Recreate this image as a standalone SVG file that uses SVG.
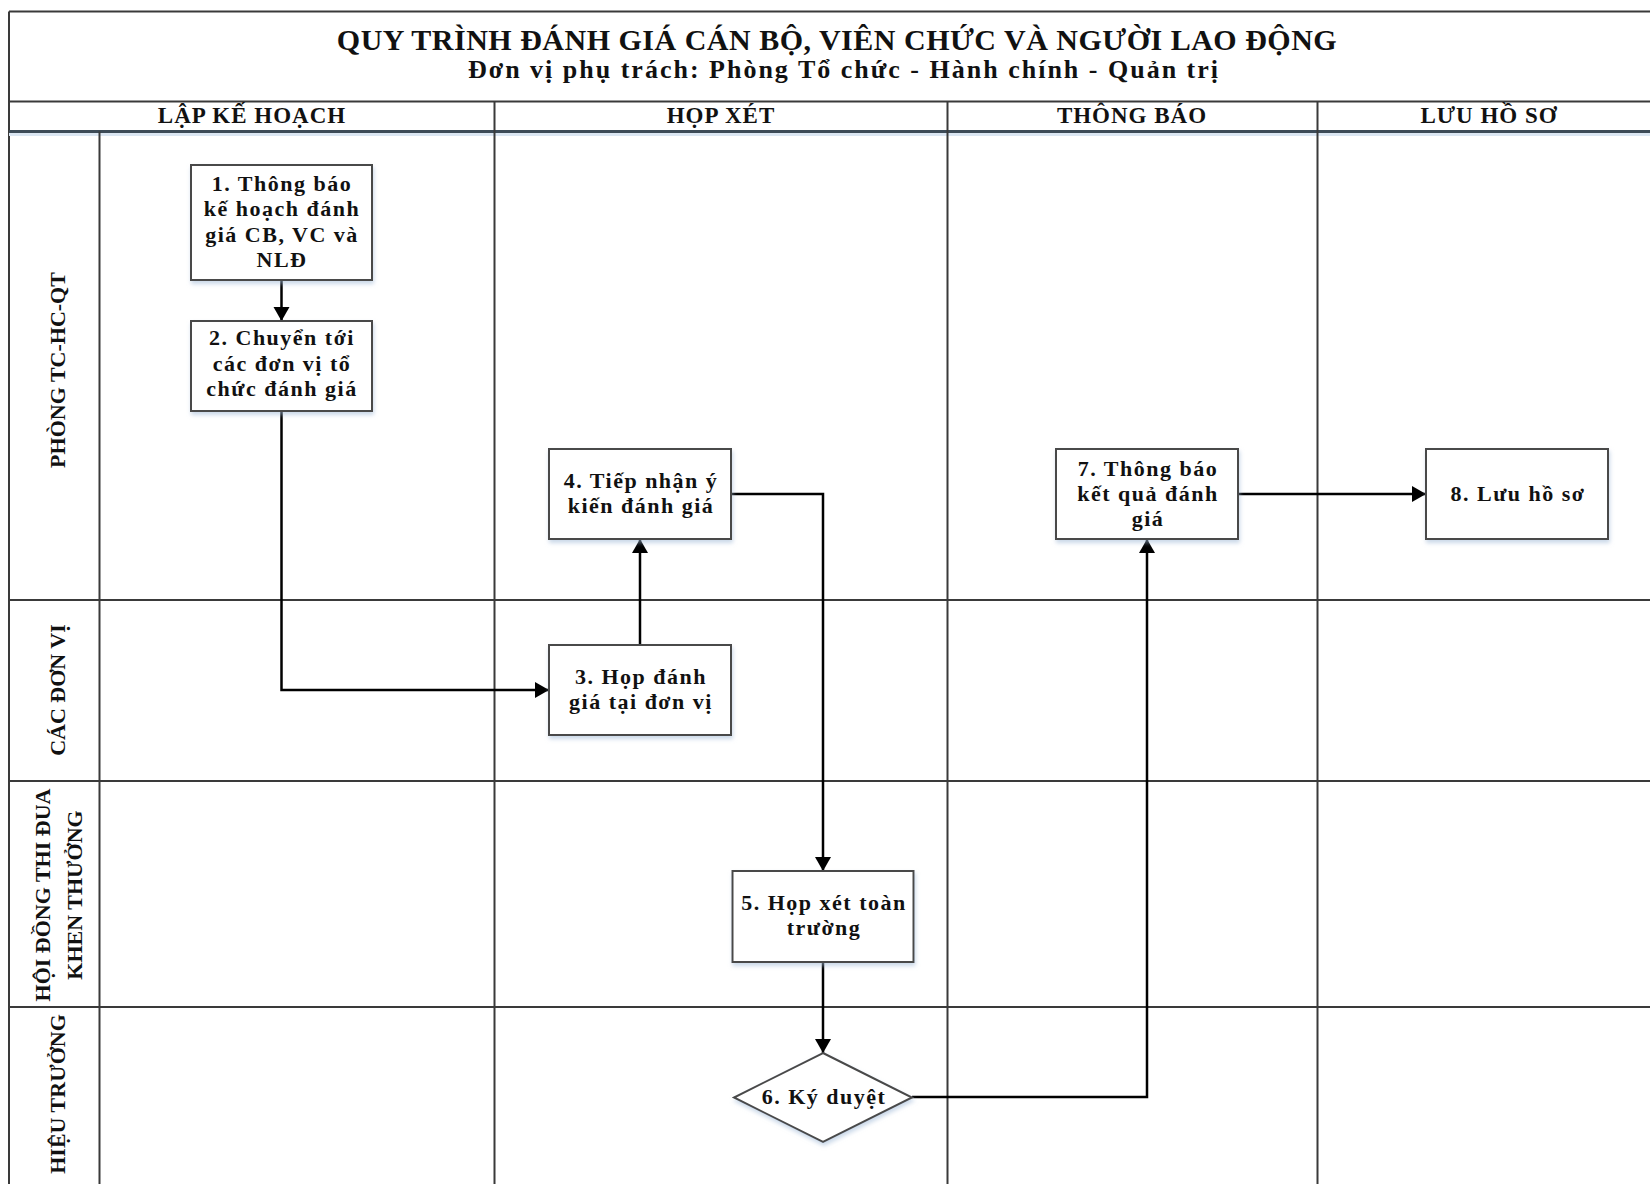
<svg xmlns="http://www.w3.org/2000/svg" width="1650" height="1184" viewBox="0 0 1650 1184">
  <defs>
    <marker id="arrow" markerUnits="userSpaceOnUse" markerWidth="15" markerHeight="17" refX="14" refY="8" orient="auto">
      <path d="M0,0 L14,8 L0,16 z" fill="#000"/>
    </marker>
    <filter id="shadow" x="-10%" y="-10%" width="125%" height="130%">
      <feDropShadow dx="1" dy="3" stdDeviation="2" flood-color="#9fb8d6" flood-opacity="0.55"/>
    </filter>
    <style>
      text { font-family: "Liberation Serif", "Times New Roman", serif; font-weight: bold; fill: #111; }
      .title { font-size: 30px; letter-spacing: 0.5px; text-anchor: middle; }
      .subtitle { font-size: 26px; letter-spacing: 2px; text-anchor: middle; }
      .hdr { font-size: 23px; letter-spacing: 1px; text-anchor: middle; }
      .lane { font-size: 22px; text-anchor: middle; }
      .node { font-size: 22px; letter-spacing: 1.5px; text-anchor: middle; }
      .grid { stroke: #3a3a3a; stroke-width: 2; fill: none; }
      .hdrline { stroke: #3d4b57; stroke-width: 3; fill: none; }
      .box { fill: #fff; stroke: #4a4a4a; stroke-width: 2; filter: url(#shadow); }
      .conn { stroke: #000; stroke-width: 2.5; fill: none; marker-end: url(#arrow); }
    </style>
  </defs>

  <rect width="1650" height="1184" fill="#fff"/>

  <g id="frame">
    <line class="grid" x1="9" y1="11.5" x2="1650" y2="11.5"/>
    <line class="grid" x1="9" y1="11.5" x2="9" y2="1184"/>
    <line class="grid" x1="9" y1="101.5" x2="1650" y2="101.5"/>
    <line x1="9" y1="134.5" x2="1650" y2="134.5" stroke="#dbe6f2" stroke-width="3"/>
    <line class="hdrline" x1="9" y1="131.5" x2="1650" y2="131.5"/>
    <line class="grid" x1="99.5" y1="131.5" x2="99.5" y2="1184"/>
    <line class="grid" x1="494.5" y1="101.5" x2="494.5" y2="1184"/>
    <line class="grid" x1="947.5" y1="101.5" x2="947.5" y2="1184"/>
    <line class="grid" x1="1317.5" y1="101.5" x2="1317.5" y2="1184"/>
    <line class="grid" x1="9" y1="600" x2="1650" y2="600"/>
    <line class="grid" x1="9" y1="781" x2="1650" y2="781"/>
    <line class="grid" x1="9" y1="1007" x2="1650" y2="1007"/>
  </g>

  <g id="title">
    <text class="title" x="837" y="49.5">QUY TRÌNH ĐÁNH GIÁ CÁN BỘ, VIÊN CHỨC VÀ NGƯỜI LAO ĐỘNG</text>
    <text class="subtitle" x="844" y="78">Đơn vị phụ trách: Phòng Tổ chức - Hành chính - Quản trị</text>
  </g>

  <g id="headers">
    <text class="hdr" x="252" y="123">LẬP KẾ HOẠCH</text>
    <text class="hdr" x="721" y="123">HỌP XÉT</text>
    <text class="hdr" x="1132" y="123">THÔNG BÁO</text>
    <text class="hdr" x="1489" y="123">LƯU HỒ SƠ</text>
  </g>

  <g id="lanes">
    <text class="lane" transform="translate(65,370) rotate(-90)">PHÒNG TC-HC-QT</text>
    <text class="lane" transform="translate(65,690) rotate(-90)">CÁC ĐƠN VỊ</text>
    <text class="lane" transform="translate(50,895) rotate(-90)">HỘI ĐỒNG THI ĐUA</text>
    <text class="lane" transform="translate(82,895) rotate(-90)">KHEN THƯỞNG</text>
    <text class="lane" transform="translate(65,1094) rotate(-90)">HIỆU TRƯỞNG</text>
  </g>

  <g id="connectors">
    <path class="conn" d="M281.5,280 L281.5,321"/>
    <path class="conn" d="M281.5,411 L281.5,690 L549,690"/>
    <path class="conn" d="M640,645 L640,539"/>
    <path class="conn" d="M731,494 L823,494 L823,871"/>
    <path class="conn" d="M823,962 L823,1053"/>
    <path class="conn" d="M912,1097 L1147,1097 L1147,539"/>
    <path class="conn" d="M1238,494 L1426,494"/>
  </g>

  <g id="node1">
    <rect class="box" x="191" y="165" width="181" height="115"/>
    <text class="node" x="282" y="191">1. Thông báo</text>
    <text class="node" x="282" y="216.3">kế hoạch đánh</text>
    <text class="node" x="282" y="241.6">giá CB, VC và</text>
    <text class="node" x="282" y="266.9">NLĐ</text>
  </g>
  <g id="node2">
    <rect class="box" x="191" y="321" width="181" height="90"/>
    <text class="node" x="282" y="345">2. Chuyển tới</text>
    <text class="node" x="282" y="370.7">các đơn vị tổ</text>
    <text class="node" x="282" y="396.4">chức đánh giá</text>
  </g>
  <g id="node3">
    <rect class="box" x="549" y="645" width="182" height="90"/>
    <text class="node" x="641" y="683.5">3. Họp đánh</text>
    <text class="node" x="641" y="708.8">giá tại đơn vị</text>
  </g>
  <g id="node4">
    <rect class="box" x="549" y="449" width="182" height="90"/>
    <text class="node" x="641" y="488">4. Tiếp nhận ý</text>
    <text class="node" x="641" y="513.3">kiến đánh giá</text>
  </g>
  <g id="node5">
    <rect class="box" x="732.5" y="871" width="181" height="91"/>
    <text class="node" x="824" y="910">5. Họp xét toàn</text>
    <text class="node" x="824" y="935.3">trường</text>
  </g>
  <g id="node6">
    <polygon class="box" points="823,1053 912,1097.5 823,1142 734,1097.5"/>
    <text class="node" x="824" y="1104">6. Ký duyệt</text>
  </g>
  <g id="node7">
    <rect class="box" x="1056" y="449" width="182" height="90"/>
    <text class="node" x="1148" y="475.5">7. Thông báo</text>
    <text class="node" x="1148" y="500.8">kết quả đánh</text>
    <text class="node" x="1148" y="526.1">giá</text>
  </g>
  <g id="node8">
    <rect class="box" x="1426" y="449" width="182" height="90"/>
    <text class="node" x="1518" y="500.5">8. Lưu hồ sơ</text>
  </g>
</svg>
